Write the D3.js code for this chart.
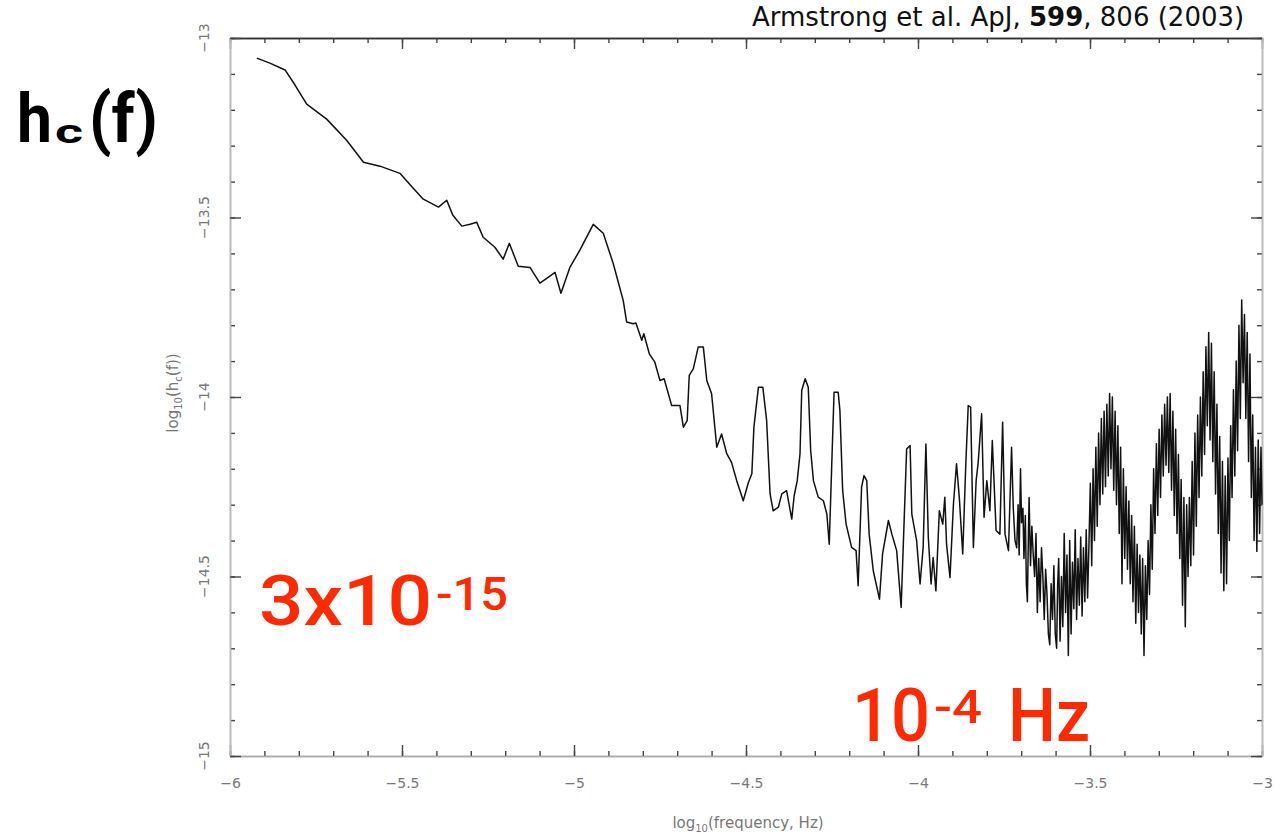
<!DOCTYPE html>
<html>
<head>
<meta charset="utf-8">
<script src="https://cdn.jsdelivr.net/npm/d3@7"></script>
<style>
  html, body { margin: 0; padding: 0; background: #fff; }
  svg { display: block; }
</style>
</head>
<body>
<svg id="chart" width="1280" height="835"></svg>
<script>
// ---- data ----
const xTicks = [-6, -5.5, -5, -4.5, -4, -3.5, -3];
const yTicks = [-15, -14.5, -14, -13.5, -13];
const logFreq = [
-5.922,-5.884,-5.840,-5.811,-5.777,-5.719,-5.661,-5.612,-5.564,-5.506,
-5.468,-5.438,-5.394,-5.370,-5.352,-5.326,-5.302,-5.283,-5.264,-5.230,
-5.206,-5.188,-5.162,-5.128,-5.099,-5.055,-5.038,-5.012,-4.983,-4.944,
-4.915,-4.886,-4.857,-4.847,-4.828,-4.820,-4.803,-4.797,-4.781,-4.765,
-4.750,-4.738,-4.716,-4.692,-4.682,-4.671,-4.665,-4.653,-4.639,-4.624,
-4.614,-4.600,-4.585,-4.571,-4.556,-4.542,-4.527,-4.508,-4.493,-4.483,
-4.477,-4.464,-4.451,-4.440,-4.430,-4.421,-4.406,-4.396,-4.382,-4.367,
-4.360,-4.351,-4.343,-4.338,-4.328,-4.319,-4.312,-4.304,-4.290,-4.275,
-4.265,-4.258,-4.251,-4.244,-4.232,-4.227,-4.219,-4.209,-4.193,-4.180,
-4.174,-4.164,-4.157,-4.149,-4.142,-4.130,-4.112,-4.103,-4.086,-4.076,
-4.062,-4.049,-4.043,-4.033,-4.023,-4.018,-4.004,-3.994,-3.985,-3.977,
-3.970,-3.962,-3.956,-3.948,-3.938,-3.928,-3.922,-3.917,-3.907,-3.897,
-3.888,-3.880,-3.870,-3.861,-3.854,-3.847,-3.839,-3.831,-3.825,-3.815,
-3.808,-3.800,-3.791,-3.784,-3.773,-3.762,-3.754,-3.747,-3.737,
-3.728,-3.723,-3.718,-3.713,-3.709,-3.706,-3.702,-3.699,-3.695,-3.692,
-3.688,-3.685,-3.682,-3.679,-3.677,-3.673,-3.669,-3.665,-3.661,-3.657,
-3.653,-3.649,-3.645,-3.641,-3.637,-3.633,-3.629,-3.625,-3.621,-3.617,
-3.613,-3.609,-3.605,-3.601,-3.597,-3.594,
-3.591,-3.587,-3.583,-3.579,-3.575,-3.571,-3.567,-3.563,-3.559,-3.555,
-3.551,-3.547,-3.543,-3.539,-3.535,-3.531,-3.527,-3.523,-3.519,-3.515,
-3.511,-3.507,-3.503,-3.499,-3.495,-3.491,-3.487,-3.483,-3.479,-3.475,
-3.471,-3.467,-3.463,-3.459,-3.455,-3.451,-3.447,-3.443,-3.439,-3.435,
-3.431,-3.427,-3.423,-3.419,-3.415,-3.411,-3.407,-3.403,-3.399,-3.395,
-3.391,-3.387,-3.383,-3.379,-3.375,-3.371,-3.367,-3.363,-3.359,-3.355,
-3.351,-3.347,-3.343,-3.339,-3.335,-3.331,-3.327,-3.323,-3.319,-3.315,
-3.311,-3.307,-3.303,-3.299,-3.295,-3.291,-3.287,-3.283,-3.279,-3.275,
-3.271,-3.267,-3.263,-3.259,-3.255,-3.251,-3.247,-3.243,-3.239,-3.235,
-3.231,-3.227,-3.223,-3.219,-3.215,-3.211,-3.207,-3.203,-3.199,-3.195,
-3.191,-3.187,-3.183,-3.179,-3.175,-3.171,-3.167,-3.163,-3.159,-3.155,
-3.151,-3.147,-3.143,-3.139,-3.135,-3.131,-3.127,-3.123,-3.119,-3.115,
-3.111,-3.107,-3.103,-3.099,-3.095,-3.091,-3.087,-3.083,-3.079,-3.075,
-3.071,-3.067,-3.063,-3.059,-3.055,-3.051,-3.047,-3.043,-3.039,-3.035,
-3.031,-3.027,-3.023,-3.019,-3.015,-3.011,-3.007,-3.003,-3.000
];
const logHc = [
-13.056,-13.070,-13.089,-13.131,-13.184,-13.226,-13.285,-13.346,-13.357,-13.377,
-13.418,-13.449,-13.471,-13.452,-13.494,-13.524,-13.519,-13.513,-13.555,-13.583,
-13.616,-13.572,-13.636,-13.639,-13.683,-13.653,-13.711,-13.639,-13.591,-13.519,
-13.544,-13.628,-13.731,-13.791,-13.796,-13.794,-13.842,-13.824,-13.880,-13.903,
-13.954,-13.949,-14.024,-14.024,-14.084,-14.066,-13.940,-13.921,-13.861,-13.861,
-13.954,-13.991,-14.140,-14.103,-14.158,-14.182,-14.233,-14.289,-14.238,-14.214,
-14.084,-13.973,-13.973,-14.066,-14.270,-14.317,-14.307,-14.270,-14.261,-14.340,
-14.275,-14.233,-14.158,-13.982,-13.949,-13.973,-14.149,-14.233,-14.279,-14.289,
-14.326,-14.410,-14.196,-13.987,-13.987,-14.038,-14.261,-14.354,-14.419,-14.428,
-14.526,-14.251,-14.219,-14.233,-14.382,-14.484,-14.563,-14.437,-14.344,-14.382,
-14.428,-14.586,-14.419,-14.145,-14.135,-14.326,-14.400,-14.521,-14.419,-14.131,
-14.391,-14.521,-14.447,-14.540,-14.317,-14.354,-14.279,-14.410,-14.503,-14.298,
-14.186,-14.279,-14.437,-14.186,-14.024,-14.028,-14.419,-14.233,-14.182,-14.047,
-14.335,-14.233,-14.317,-14.121,-14.372,-14.382,-14.070,-14.382,-14.428,
-14.14,-14.31,-14.40,-14.42,-14.30,-14.44,-14.20,-14.35,-14.31,-14.45,
-14.33,-14.52,-14.57,-14.38,-14.28,-14.47,-14.36,-14.44,-14.50,-14.38,
-14.60,-14.45,-14.57,-14.42,-14.50,-14.62,-14.48,-14.55,-14.66,-14.69,
-14.52,-14.62,-14.47,-14.66,-14.70,-14.52,
-14.45,-14.68,-14.50,-14.64,-14.38,-14.60,-14.44,-14.72,-14.40,-14.66,
-14.46,-14.59,-14.37,-14.62,-14.45,-14.58,-14.39,-14.61,-14.42,-14.57,
-14.37,-14.56,-14.41,-14.24,-14.47,-14.20,-14.40,-14.14,-14.36,-14.10,
-14.30,-14.06,-14.27,-14.04,-14.25,-14.02,-14.22,-13.99,-14.20,-14.00,
-14.26,-14.04,-14.30,-14.08,-14.38,-14.14,-14.52,-14.20,-14.45,-14.25,
-14.48,-14.29,-14.52,-14.33,-14.57,-14.36,-14.63,-14.41,-14.60,-14.44,
-14.66,-14.45,-14.72,-14.47,-14.62,-14.40,-14.55,-14.30,-14.48,-14.20,
-14.38,-14.13,-14.33,-14.09,-14.28,-14.05,-14.22,-14.02,-14.19,-14.00,
-14.21,-13.99,-14.26,-14.04,-14.33,-14.09,-14.38,-14.16,-14.45,-14.23,
-14.58,-14.28,-14.64,-14.30,-14.50,-14.28,-14.47,-14.18,-14.44,-14.10,
-14.36,-14.05,-14.28,-14.00,-14.22,-13.93,-14.16,-13.86,-14.08,-13.82,
-14.12,-13.85,-14.18,-13.93,-14.27,-14.02,-14.38,-14.11,-14.49,-14.18,
-14.54,-14.22,-14.52,-14.17,-14.40,-14.08,-14.28,-13.98,-14.22,-13.90,
-14.15,-13.80,-14.06,-13.73,-13.96,-13.77,-14.06,-13.82,-14.18,-13.88,
-14.28,-14.05,-14.40,-14.14,-14.43,-14.12,-14.38,-14.14,-14.30
];

// ---- layout ----
const svg = d3.select("#chart");
const L = 230, R = 1262, T = 38, B = 756;
const x = d3.scaleLinear().domain([-6, -3]).range([L, R]);
const y = d3.scaleLinear().domain([-15, -13]).range([B, T]);
const xMinor = d3.range(-6, -2.99, 0.1).map(v => +v.toFixed(2));
const yMinor = d3.range(-15, -12.99, 0.1).map(v => +v.toFixed(2));

const axisCol = "#444";
function styleAxis(g, lineCol) {
  g.select(".domain").attr("stroke", lineCol).attr("stroke-width", 1.6);
  g.selectAll(".tick line").attr("stroke", axisCol).attr("stroke-width", 1.4);
}

// bottom
const gB = svg.append("g").attr("transform", `translate(0,${B})`)
  .call(d3.axisBottom(x).tickValues(xMinor).tickSize(-5).tickSizeOuter(0).tickFormat(""));
styleAxis(gB, "#aaa");
const gB2 = svg.append("g").attr("transform", `translate(0,${B})`)
  .call(d3.axisBottom(x).tickValues(xTicks).tickSize(-11).tickSizeOuter(0).tickPadding(22)
        .tickFormat(d3.format("")));
styleAxis(gB2, "#aaa");
gB2.selectAll(".tick text").attr("font-family", "DejaVu Sans").attr("font-size", 14)
  .attr("fill", "#777");

// top
const gT = svg.append("g").attr("transform", `translate(0,${T})`)
  .call(d3.axisTop(x).tickValues(xMinor).tickSize(-5).tickSizeOuter(0).tickFormat(""));
styleAxis(gT, "#333");
const gT2 = svg.append("g").attr("transform", `translate(0,${T})`)
  .call(d3.axisTop(x).tickValues(xTicks).tickSize(-11).tickSizeOuter(0).tickFormat(""));
styleAxis(gT2, "#333");

// left
const gL = svg.append("g").attr("transform", `translate(${L},0)`)
  .call(d3.axisLeft(y).tickValues(yMinor).tickSize(-5).tickSizeOuter(0).tickFormat(""));
styleAxis(gL, "#bbb");
const gL2 = svg.append("g").attr("transform", `translate(${L},0)`)
  .call(d3.axisLeft(y).tickValues(yTicks).tickSize(-11).tickSizeOuter(0).tickFormat(""));
styleAxis(gL2, "#bbb");
svg.append("g").selectAll("text").data(yTicks).join("text")
  .attr("transform", d => `translate(${L - 21},${y(d)}) rotate(-90)`)
  .attr("text-anchor", "middle")
  .attr("font-family", "DejaVu Sans").attr("font-size", 14).attr("fill", "#777")
  .text(d3.format(""));

// right
const gR = svg.append("g").attr("transform", `translate(${R},0)`)
  .call(d3.axisRight(y).tickValues(yMinor).tickSize(-5).tickSizeOuter(0).tickFormat(""));
styleAxis(gR, "#bbb");
const gR2 = svg.append("g").attr("transform", `translate(${R},0)`)
  .call(d3.axisRight(y).tickValues(yTicks).tickSize(-11).tickSizeOuter(0).tickFormat(""));
styleAxis(gR2, "#bbb");

// axis labels
const xl = svg.append("text").attr("x", (L + R) / 2 + 2).attr("y", 828)
  .attr("text-anchor", "middle").attr("font-family", "DejaVu Sans")
  .attr("font-size", 15).attr("fill", "#777");
xl.append("tspan").text("log");
xl.append("tspan").attr("font-size", 10).attr("dy", 4).text("10");
xl.append("tspan").attr("dy", -4).text("(frequency, Hz)");

const yl = svg.append("text").attr("transform", `translate(178,${y(-14) - 4}) rotate(-90)`)
  .attr("text-anchor", "middle").attr("font-family", "DejaVu Sans")
  .attr("font-size", 15).attr("fill", "#777");
yl.append("tspan").text("log");
yl.append("tspan").attr("font-size", 10).attr("dy", 4).text("10");
yl.append("tspan").attr("dy", -4).text("(h");
yl.append("tspan").attr("font-size", 10).attr("dy", 4).text("c");
yl.append("tspan").attr("dy", -4).text("(f))");

// data line
const pts = logFreq.map((f, i) => [f, logHc[i]]);
svg.append("path").datum(pts)
  .attr("fill", "none").attr("stroke", "#111").attr("stroke-width", 1.5)
  .attr("stroke-linejoin", "round")
  .attr("d", d3.line().x(d => x(d[0])).y(d => y(d[1])));

// annotations
function label(txt, px, py, size, weight, fill, len, family) {
  svg.append("text").attr("x", px).attr("y", py)
    .attr("font-family", family || "Roboto").attr("font-weight", weight)
    .attr("font-size", size).attr("fill", fill)
    .attr("textLength", len).attr("lengthAdjust", "spacingAndGlyphs")
    .text(txt);
}
label("h", 17, 142, 68, 700, "#000", 35);
label("c", 55, 143, 34, 700, "#000", 28);
label("(f)", 89, 142, 68, 700, "#000", 69);

const red = "#ff2a00";
label("3x10", 259, 625, 70, 500, red, 173);
label("-15", 436, 610, 46, 500, red, 72);
label("10", 852, 741, 74, 500, red, 78);
label("-4", 934, 723, 46, 500, red, 48);
label("Hz", 1008, 741, 74, 500, red, 82);

const cit = svg.append("text").attr("x", 752).attr("y", 26)
  .attr("font-family", "DejaVu Sans").attr("font-size", 26).attr("fill", "#111");
cit.append("tspan").text("Armstrong et al. ApJ, ");
cit.append("tspan").attr("font-weight", "bold").text("599");
cit.append("tspan").text(", 806 (2003)");
</script>
</body>
</html>
